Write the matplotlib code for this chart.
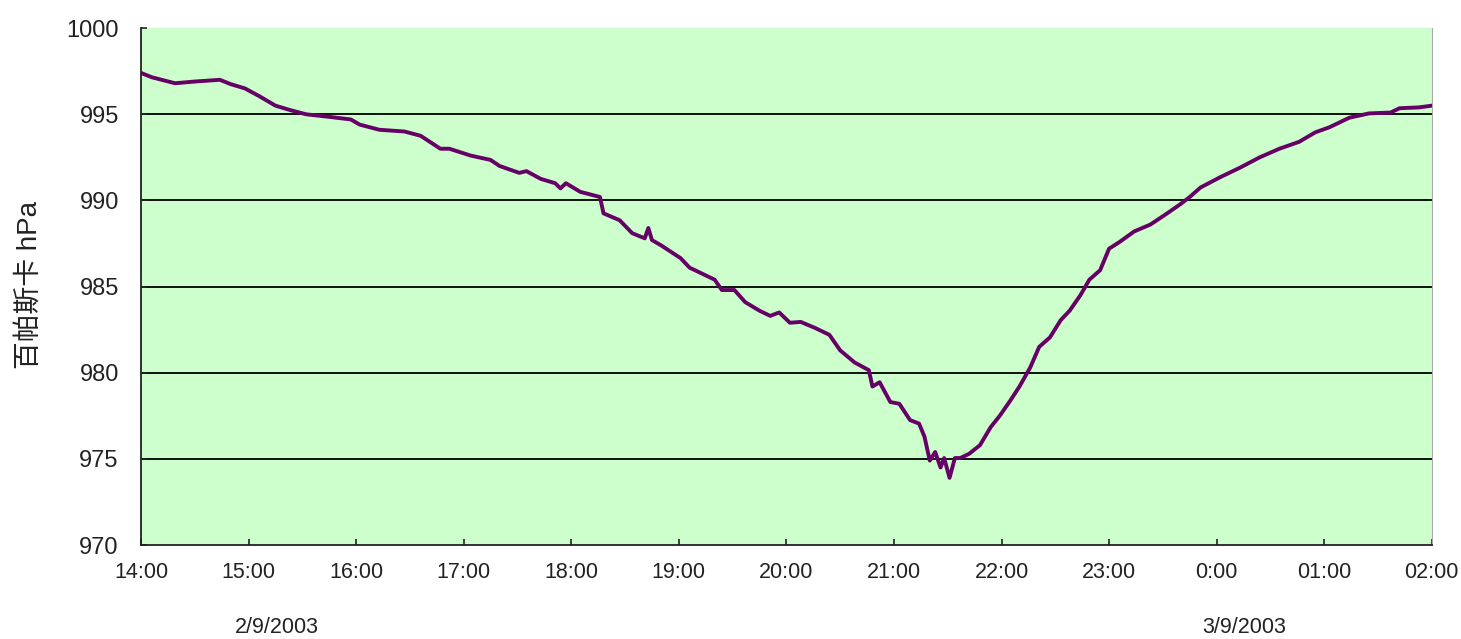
import matplotlib.pyplot as plt

# minutes after 14:00 on 2/9/2003, pressure in hPa
minutes = [0, 6, 19, 30, 44, 50, 58, 66, 75, 83, 92, 105, 117, 122, 133, 147,
           156, 167, 172, 184, 195, 200, 211, 215, 223, 231, 234, 237, 245,
           256, 258, 267, 274, 281, 283, 285, 290, 301, 306, 312, 320, 324,
           331, 337, 345, 351, 356, 362, 368, 376, 384, 390, 398, 406, 408,
           412, 418, 423, 429, 434, 437, 440, 443, 446, 448, 451, 454, 457,
           462, 468, 474, 479, 485, 490, 496, 501, 507, 513, 518, 524, 529,
           535, 540, 546, 554, 563, 571, 580, 585, 591, 602, 613, 624, 635,
           646, 655, 663, 674, 685, 697, 702, 713, 720]
pressure = [997.4, 997.15, 996.8, 996.9, 997.0, 996.75, 996.5, 996.05, 995.5,
            995.25, 995.0, 994.85, 994.7, 994.4, 994.1, 994.0, 993.75, 993.0,
            993.0, 992.6, 992.35, 992.0, 991.6, 991.7, 991.25, 991.0, 990.7,
            991.0, 990.5, 990.2, 989.25, 988.85, 988.1, 987.8, 988.4, 987.7,
            987.4, 986.65, 986.1, 985.8, 985.4, 984.8, 984.8, 984.1, 983.6,
            983.3, 983.5, 982.9, 982.95, 982.6, 982.2, 981.3, 980.6, 980.15,
            979.2, 979.45, 978.3, 978.2, 977.25, 977.05, 976.3, 974.9, 975.4,
            974.5, 975.05, 973.9, 975.05, 975.05, 975.3, 975.8, 976.85, 977.5,
            978.4, 979.2, 980.3, 981.5, 982.05, 983.05, 983.6, 984.5, 985.4,
            985.95, 987.2, 987.6, 988.2, 988.6, 989.15, 989.8, 990.2, 990.75,
            991.35, 991.9, 992.5, 993.0, 993.4, 993.95, 994.25, 994.8, 995.05,
            995.1, 995.35, 995.4, 995.5]

hour_labels = ["14:00", "15:00", "16:00", "17:00", "18:00", "19:00", "20:00",
               "21:00", "22:00", "23:00", "0:00", "01:00", "02:00"]
y_ticks = [970, 975, 980, 985, 990, 995, 1000]
dates = ["2/9/2003", "3/9/2003"]
date_pos = [1.26, 10.26]  # hours after 14:00

plt.rcParams['font.family'] = ['Liberation Sans', 'Noto Sans CJK TC']

fig = plt.figure(figsize=(14.61, 6.39), dpi=100)
ax = fig.add_axes([0.0965, 0.147, 0.8835, 0.809])
ax.set_facecolor('#ccffcc')

hours = [m / 60 for m in minutes]
for v in y_ticks[1:-1]:
    ax.axhline(v, color='black', lw=1.3, zorder=1)
ax.plot(hours, pressure, color='#660066', lw=2.8, zorder=3)

ax.set_xlim(0, 12)
ax.set_ylim(970, 1000)
ax.set_xticks(range(13))
ax.set_xticklabels(hour_labels)
ax.set_yticks(y_ticks)
ax.tick_params(direction='in', length=4, width=1.2, colors='#222222')
ax.tick_params(axis='x', labelsize=15.5, pad=12)
ax.tick_params(axis='y', labelsize=17, pad=16)

ax.spines['top'].set_visible(False)
ax.spines['right'].set_color('#aaaaaa')
ax.spines['left'].set_color('#222222')
ax.spines['bottom'].set_color('#222222')
ax.spines['left'].set_linewidth(1.3)
ax.spines['bottom'].set_linewidth(1.3)

ax.set_ylabel("百帕斯卡 hPa", fontsize=20, color='#222222')
ax.yaxis.set_label_coords(-0.0765, 0.503)

for d, p in zip(dates, date_pos):
    ax.text(p, -0.16, d, transform=ax.get_xaxis_transform(), ha='center',
            va='center', fontsize=15.5, color='#222222')

fig.savefig("out.png", dpi=100)
